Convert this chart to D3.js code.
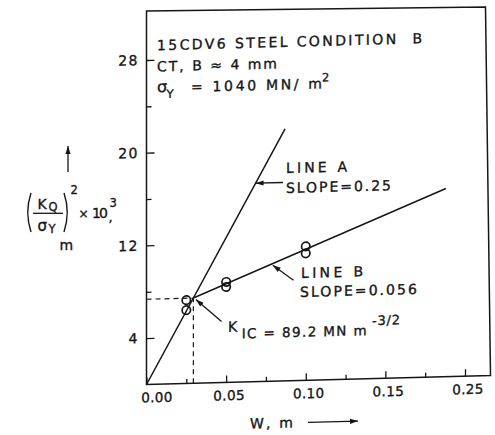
<!DOCTYPE html>
<html>
<head>
<meta charset="utf-8">
<script src="https://cdn.jsdelivr.net/npm/d3@7"></script>
<style>
  html, body { margin: 0; padding: 0; background: #fff; }
  text { font-family: "DejaVu Sans", sans-serif; fill: #161616; stroke: #161616; stroke-width: 0.35px; }
</style>
</head>
<body>
<script>
// Fracture toughness validity plot: (KQ/σY)^2 against ligament width W
const xTickValues = [0, 0.05, 0.10, 0.15, 0.20];
const xTickLabels = ["0.00", "0.05", "0.10", "0.15", "0.25"];
const xMinorTicks = [0.025, 0.075, 0.125, 0.175];
const yTickValues = [4, 12, 20, 28];
const yTickLabels = ["4", "12", "20", "28"];
const yMinorTicks = [8, 16, 24];

// measured specimens: ligament width W (m) and (KQ/σY)^2 ×10^3 (m)
const pointW = [0.025, 0.025, 0.05, 0.05, 0.10, 0.10];
const pointY = [7.19, 6.33, 8.67, 8.24, 11.56, 10.96];

const slopeA = 0.25;      // line A
const slopeB = 0.056;     // line B
const kIC = 89.2;         // MN m^-3/2
const sigmaY = 1040;      // MN/m^2
const lineAEndW = 0.087;
const lineBEndW = 0.188;

const ink = "#161616";
const k = 0.026;          // slight slant of the whole drawing
const x0 = 146.5;

const x = d3.scaleLinear().domain([0, 0.20]).range([x0, 465]);
const y = d3.scaleLinear().domain([0, 28]).range([384.5, 60]);

const svg = d3.select("body").append("svg")
  .attr("width", 495).attr("height", 435);
svg.append("rect").attr("width", 495).attr("height", 435).attr("fill", "#fff");

// plot frame
svg.append("path")
  .attr("d", `M${x0},11 L485.5,7 L490.5,${(384.5 - k * (490.5 - x0)).toFixed(2)} L${x0},384.5 Z`)
  .attr("fill", "none").attr("stroke", ink).attr("stroke-width", 1.5);

const g = svg.append("g")
  .attr("transform", `matrix(1,${-k},0,1,0,${(k * x0).toFixed(3)})`);

function arrowHead(sel, x1, y1, x2, y2, len, half) {
  const dx = x2 - x1, dy = y2 - y1, L = Math.hypot(dx, dy);
  const ux = dx / L, uy = dy / L;
  const bx = x2 - ux * len, by = y2 - uy * len;
  sel.append("path")
    .attr("d", `M${x2},${y2} L${bx - uy * half},${by + ux * half} L${bx + uy * half},${by - ux * half} Z`)
    .attr("fill", ink);
}
function leader(sel, x1, y1, x2, y2) {
  sel.append("line")
    .attr("x1", x1).attr("y1", y1).attr("x2", x2).attr("y2", y2)
    .attr("stroke", ink).attr("stroke-width", 1.3);
  arrowHead(sel, x1, y1, x2, y2, 8, 2.6);
}

// x axis
const xAxis = g.append("g").attr("transform", `translate(0,${y(0)})`)
  .call(d3.axisBottom(x).tickValues(xTickValues)
    .tickFormat((d, i) => xTickLabels[i])
    .tickSizeInner(-7).tickSizeOuter(0).tickPadding(8.3));
xAxis.select(".domain").remove();
xAxis.selectAll("line").attr("stroke", ink).attr("stroke-width", 1.3);
xAxis.selectAll("text")
  .attr("font-family", "DejaVu Sans").attr("font-size", 13.5)
  .attr("letter-spacing", 0.4).attr("fill", ink)
  .attr("dx", (d, i) => i === 0 ? 10 : 2.5);
const xMinor = g.append("g").attr("transform", `translate(0,${y(0)})`)
  .call(d3.axisBottom(x).tickValues(xMinorTicks).tickFormat("")
    .tickSizeInner(-4.5).tickSizeOuter(0));
xMinor.select(".domain").remove();
xMinor.selectAll("line").attr("stroke", ink).attr("stroke-width", 1.3);

// y axis
const yAxis = g.append("g").attr("transform", `translate(${x0},0)`)
  .call(d3.axisLeft(y).tickValues(yTickValues)
    .tickFormat((d, i) => yTickLabels[i])
    .tickSizeInner(-8).tickSizeOuter(0).tickPadding(8));
yAxis.select(".domain").remove();
yAxis.selectAll("line").attr("stroke", ink).attr("stroke-width", 1.3);
yAxis.selectAll("text")
  .attr("font-family", "DejaVu Sans").attr("font-size", 14)
  .attr("letter-spacing", 1.2).attr("fill", ink);
const yMinor = g.append("g").attr("transform", `translate(${x0},0)`)
  .call(d3.axisLeft(y).tickValues(yMinorTicks).tickFormat("")
    .tickSizeInner(-5).tickSizeOuter(0));
yMinor.select(".domain").remove();
yMinor.selectAll("line").attr("stroke", ink).attr("stroke-width", 1.3);

// intersection of line A with the K_IC level
const yInt = Math.pow(kIC / sigmaY, 2) * 1000;
const wInt = yInt / (slopeA * 1000);

const line = d3.line().x(d => x(d[0])).y(d => y(d[1]));

// dashed guides to the axes
g.append("path").attr("d", line([[0, yInt], [wInt, yInt]]))
  .attr("fill", "none").attr("stroke", ink).attr("stroke-width", 1.2)
  .attr("stroke-dasharray", "5,4");
g.append("path").attr("d", line([[wInt, 0], [wInt, yInt]]))
  .attr("fill", "none").attr("stroke", ink).attr("stroke-width", 1.2)
  .attr("stroke-dasharray", "5,4");

// line A and line B
const lineA = [[0, 0], [lineAEndW, slopeA * 1000 * lineAEndW]];
const lineB = [[wInt, yInt], [lineBEndW, yInt + slopeB * 1000 * (lineBEndW - wInt)]];
g.append("path").attr("d", line(lineA))
  .attr("fill", "none").attr("stroke", ink).attr("stroke-width", 1.5);
g.append("path").attr("d", line(lineB))
  .attr("fill", "none").attr("stroke", ink).attr("stroke-width", 1.5);

// specimens
g.selectAll("circle.pt").data(pointW.map((w, i) => [w, pointY[i]]))
  .enter().append("circle").attr("class", "pt")
  .attr("cx", d => x(d[0])).attr("cy", d => y(d[1])).attr("r", 4.2)
  .attr("fill", "none").attr("stroke", ink).attr("stroke-width", 1.7);

// annotations
function label(sel, tx, ty, str, size, len) {
  const t = sel.append("text").attr("x", tx).attr("y", ty)
    .attr("font-size", size).attr("xml:space", "preserve")
    .style("white-space", "pre").text(str);
  if (len) t.attr("textLength", len).attr("lengthAdjust", "spacing");
  return t;
}

label(g, 157, 50.5, "15CDV6 STEEL CONDITION  B", 14, 265);
label(g, 157, 71.8, "CT, B ≈ 4 mm", 14, 120);
label(g, 157, 92.5, "σ", 16);
label(g, 166.5, 98.5, "Y", 11.5);
label(g, 191, 93, "= 1040 MN/ m", 14, 131);
label(g, 322, 86, "2", 11.5);

label(g, 286, 176.6, "LINE A", 14, 61);
label(g, 286, 196.6, "SLOPE=0.25", 14, 105);
const aTipW = 0.0685;
leader(g, 283, y(slopeA * 1000 * aTipW), x(aTipW), y(slopeA * 1000 * aTipW));

label(g, 301, 282, "LINE B", 14, 62);
label(g, 300, 301, "SLOPE=0.056", 14, 117);
const bTipW = 0.079;
const bTipY = yInt + slopeB * 1000 * (bTipW - wInt);
leader(g, 293.5, 284, x(bTipW) + 0.5, y(bTipY) + 1.5);

label(g, 228, 334, "K", 14);
label(g, 241.7, 340.8, "IC = 89.2 MN m", 13.5, 125);
label(g, 372, 331, "-3/2", 13, 28);
leader(g, 221.5, 323.5, x(wInt) + 2.5, y(yInt) + 1.5);

// x axis title with arrow
label(g, 250, 431.3, "W, m", 14, 43);
leader(g, 308, 426.6, 358, 426.6);

// y axis title (upright, left margin)
leader(svg, 68, 172, 68, 146);
svg.append("path").attr("d", "M31,193 Q24.5,212.5 31,232")
  .attr("fill", "none").attr("stroke", ink).attr("stroke-width", 1.4);
svg.append("path").attr("d", "M64,193 Q70.5,212.5 64,232")
  .attr("fill", "none").attr("stroke", ink).attr("stroke-width", 1.4);
svg.append("line").attr("x1", 33).attr("x2", 63).attr("y1", 213.3).attr("y2", 213.3)
  .attr("stroke", ink).attr("stroke-width", 1.3);
label(svg, 37.5, 208.5, "K", 14);
label(svg, 48.5, 211, "Q", 11.5);
label(svg, 37.5, 230.5, "σ", 15);
label(svg, 48.5, 232.5, "Y", 11.5);
label(svg, 70.5, 193.5, "2", 11.5);
label(svg, 78.5, 218, "×", 12);
label(svg, 92, 218, "10", 14, 16);
label(svg, 109.5, 207, "3", 11.5);
label(svg, 108.5, 222, ",", 13);
label(svg, 59.5, 250, "m", 14);
</script>
</body>
</html>
